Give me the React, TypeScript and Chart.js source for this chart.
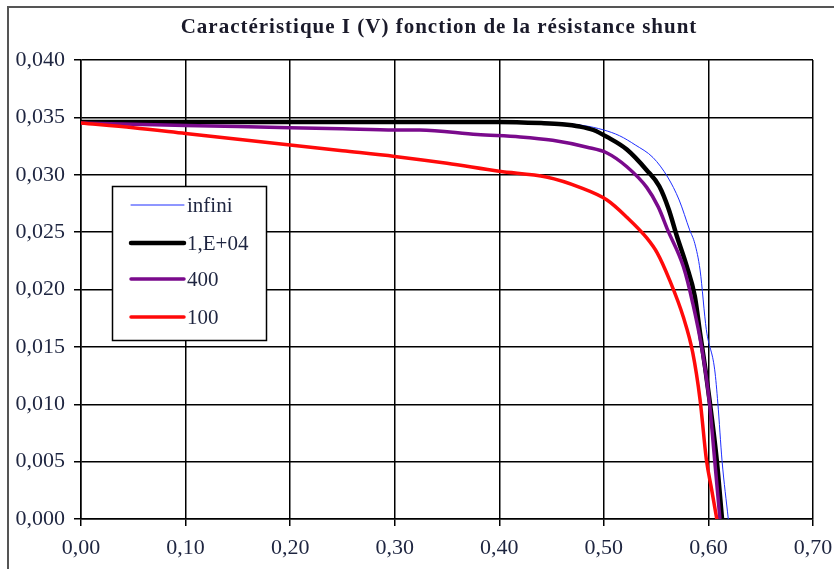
import React, { useEffect, useRef } from 'react';
import { Chart, registerables } from 'chart.js';

Chart.register(...registerables);

const TITLE = 'Caractéristique I (V) fonction de la résistance shunt';
const SERIES_LABELS = ['infini', '1,E+04', '400', '100'];
const SERIES_COLORS = ['#1f2fff', '#000000', '#7a0a8c', '#ff0a0a'];
const SERIES_WIDTHS = [1, 4.5, 3.5, 3.5];

const V_INFINI = [0, 0.05, 0.1, 0.15, 0.2, 0.25, 0.3, 0.35, 0.4, 0.43, 0.46, 0.48, 0.5, 0.515, 0.53, 0.547, 0.561, 0.572, 0.582, 0.587, 0.592, 0.598, 0.606, 0.609, 0.613, 0.619];
const I_INFINI = [0.0346, 0.0346, 0.0346, 0.0346, 0.0346, 0.0346, 0.0346, 0.0346, 0.0346, 0.0346, 0.0345, 0.0343, 0.0339, 0.0334, 0.0326, 0.0315, 0.0298, 0.0278, 0.0252, 0.024, 0.0217, 0.0165, 0.013, 0.0101, 0.0051, 0.0];

const V_1E4 = [0, 0.1, 0.2, 0.3, 0.4, 0.44, 0.46, 0.477, 0.49, 0.503, 0.522, 0.541, 0.553, 0.562, 0.57, 0.579, 0.587, 0.592, 0.597, 0.601, 0.608, 0.613];
const I_1E4 = [0.0346, 0.0346, 0.0346, 0.0346, 0.0346, 0.0345, 0.0344, 0.0342, 0.0339, 0.0333, 0.0322, 0.0304, 0.029, 0.027, 0.0246, 0.0221, 0.0194, 0.0162, 0.0131, 0.0104, 0.0051, 0.0];

const V_400 = [0, 0.05, 0.1, 0.15, 0.2, 0.25, 0.3, 0.324, 0.379, 0.42, 0.451, 0.484, 0.503, 0.522, 0.541, 0.552, 0.561, 0.576, 0.585, 0.594, 0.601, 0.606, 0.611];
const I_400 = [0.0345, 0.0344, 0.0343, 0.0342, 0.0341, 0.034, 0.0339, 0.0339, 0.0335, 0.0333, 0.033, 0.0324, 0.0319, 0.0307, 0.0289, 0.0272, 0.0252, 0.022, 0.0188, 0.0147, 0.0101, 0.0051, 0.0];

const V_100 = [0, 0.05, 0.1, 0.15, 0.2, 0.25, 0.3, 0.35, 0.4, 0.445, 0.477, 0.503, 0.522, 0.541, 0.551, 0.563, 0.576, 0.585, 0.592, 0.598, 0.603, 0.608];
const I_100 = [0.0345, 0.0341, 0.0336, 0.0331, 0.0326, 0.0321, 0.0316, 0.031, 0.0303, 0.0298, 0.0289, 0.0278, 0.0263, 0.0245, 0.0232, 0.0208, 0.0176, 0.0145, 0.0104, 0.0052, 0.0026, 0.0];

const SERIES_V = [V_INFINI, V_1E4, V_400, V_100];
const SERIES_I = [I_INFINI, I_1E4, I_400, I_100];

const SERIF = "'Liberation Serif', 'Times New Roman', serif";
const TEXT_COLOR = '#1e2540';

const framePlugin = {
  id: 'frame',
  beforeDraw(chart: any) {
    const ctx = chart.ctx;
    ctx.save();
    ctx.fillStyle = '#ffffff';
    ctx.fillRect(0, 0, chart.width, chart.height);
    ctx.strokeStyle = '#555';
    ctx.lineWidth = 2;
    ctx.beginPath();
    ctx.moveTo(8, chart.height);
    ctx.lineTo(8, 7);
    ctx.lineTo(chart.width, 7);
    ctx.stroke();
    ctx.fillStyle = '#1a1a2a';
    ctx.font = `bold 21px ${SERIF}`;
    ctx.textAlign = 'center';
    ctx.textBaseline = 'middle';
    try { (ctx as any).letterSpacing = '1px'; } catch (e) {}
    ctx.fillText(TITLE, 439, 28);
    ctx.restore();
  },
  afterDraw(chart: any) {
    const ctx = chart.ctx;
    ctx.save();
    const bx = 112.5, by = 186.5, bw = 154, bh = 154;
    ctx.fillStyle = '#fff';
    ctx.fillRect(bx, by, bw, bh);
    ctx.strokeStyle = '#000';
    ctx.lineWidth = 1.5;
    ctx.strokeRect(bx, by, bw, bh);
    const ys = [205, 243, 279, 317];
    ctx.font = `21px ${SERIF}`;
    ctx.textBaseline = 'middle';
    ctx.textAlign = 'left';
    chart.data.datasets.forEach((ds: any, i: number) => {
      ctx.strokeStyle = ds.borderColor;
      ctx.lineWidth = ds.borderWidth;
      ctx.lineCap = 'round';
      ctx.beginPath();
      ctx.moveTo(131, ys[i]);
      ctx.lineTo(184, ys[i]);
      ctx.stroke();
      ctx.fillStyle = TEXT_COLOR;
      ctx.fillText(ds.label, 187, ys[i] + 1);
    });
    ctx.restore();
  },
};

export default function App() {
  const ref = useRef<HTMLCanvasElement | null>(null);
  useEffect(() => {
    if (!ref.current) return;
    const datasets = SERIES_LABELS.map((label, i) => ({
      label,
      data: SERIES_V[i].map((v, k) => ({ x: v, y: SERIES_I[i][k] })),
      borderColor: SERIES_COLORS[i],
      backgroundColor: SERIES_COLORS[i],
      borderWidth: SERIES_WIDTHS[i],
      showLine: true,
      pointRadius: 0,
      cubicInterpolationMode: 'monotone' as const,
      order: 3 - i,
    }));
    const chart = new Chart(ref.current, {
      type: 'scatter',
      data: { datasets },
      options: {
        animation: false,
        responsive: false,
        maintainAspectRatio: false,
        layout: { padding: { top: 60, right: 21, bottom: 0, left: 0 } },
        plugins: { legend: { display: false }, title: { display: false }, tooltip: { enabled: false } },
        scales: {
          x: {
            type: 'linear',
            min: 0,
            max: 0.7,
            afterFit(scale: any) { scale.height = 50; scale.paddingLeft = 0; scale.paddingRight = 0; },
            ticks: {
              stepSize: 0.1,
              color: TEXT_COLOR,
              font: { family: SERIF, size: 22 },
              padding: 9,
              maxRotation: 0,
              callback: (v: any) => Number(v).toFixed(2).replace('.', ','),
            },
            grid: { color: '#000', lineWidth: 1.5, tickLength: 7 },
            border: { display: true, color: '#000', width: 1.5 },
          },
          y: {
            type: 'linear',
            min: 0,
            max: 0.04,
            afterFit(scale: any) { scale.width = 81; scale.paddingTop = 0; scale.paddingBottom = 0; },
            ticks: {
              stepSize: 0.005,
              color: TEXT_COLOR,
              font: { family: SERIF, size: 22 },
              padding: 9,
              callback: (v: any) => Number(v).toFixed(3).replace('.', ','),
            },
            grid: { color: '#000', lineWidth: 1.5, tickLength: 7 },
            border: { display: true, color: '#000', width: 1.5 },
          },
        },
      },
      plugins: [framePlugin],
    });
    return () => chart.destroy();
  }, []);
  return (
    <div style={{ position: 'fixed', left: 0, top: 0, width: 834, height: 569 }}>
      <canvas ref={ref} width={834} height={569} style={{ width: 834, height: 569 }} />
    </div>
  );
}
